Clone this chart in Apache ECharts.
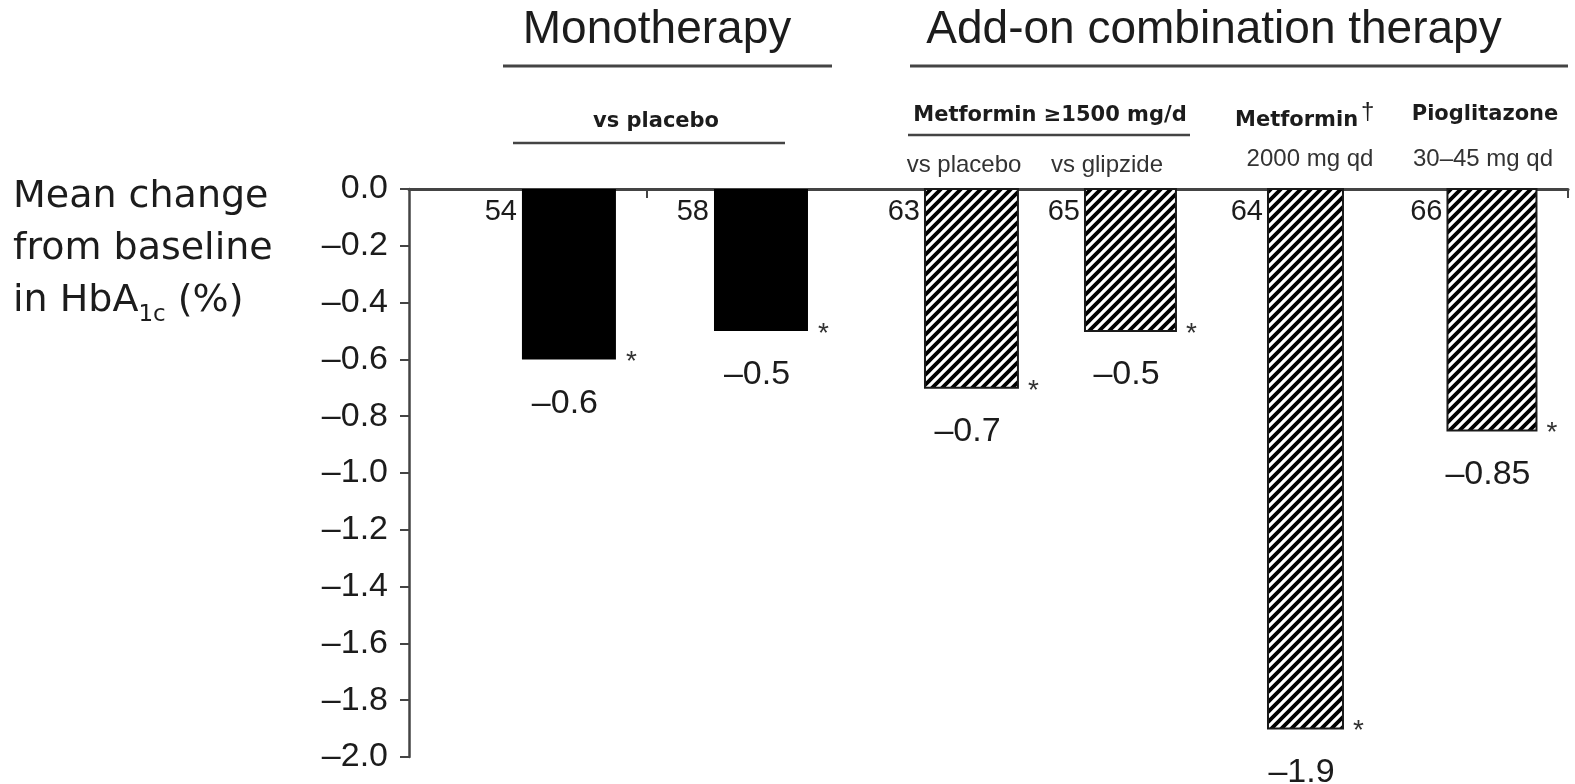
<!DOCTYPE html>
<html>
<head>
<meta charset="utf-8">
<script src="https://cdn.jsdelivr.net/npm/echarts@6/dist/echarts.min.js"></script>
<style>
  html, body { margin: 0; padding: 0; background: #fff; }
  #chart { width: 1575px; height: 784px; }
</style>
</head>
<body>
<div id="chart"></div>
<script>
// ---- data -------------------------------------------------------------
const arms = [
  'Monotherapy vs placebo (study A)',
  'Monotherapy vs placebo (study B)',
  'Metformin ≥1500 mg/d vs placebo',
  'Metformin ≥1500 mg/d vs glipzide',
  'Metformin 2000 mg qd',
  'Pioglitazone 30–45 mg qd'
];
const therapyType = ['mono', 'mono', 'addon', 'addon', 'addon', 'addon'];
const meanChangeHbA1c = [-0.6, -0.5, -0.7, -0.5, -1.9, -0.85];
const patientsN = [54, 58, 63, 65, 64, 66];
const significant = [true, true, true, true, true, true];
const yRange = { min: -2.0, max: 0.0, step: 0.2 };

// ---- layout (horizontal axis runs 0..100 across the plot) -----------------
const barCenter = [13.8, 30.37, 48.53, 62.25, 77.35, 93.44];
const barWidth = [8.11, 8.11, 8.02, 7.85, 6.47, 7.68];

const FONT = '"Liberation Sans", Arial, sans-serif';
const BOLD = '"DejaVu Sans", sans-serif';
const INK = '#1c1c1c';
const RULE = '#444';

// diagonal hatch tile for add-on therapy bars
function hatchTile() {
  const s = 10;
  const c = document.createElement('canvas');
  c.width = s; c.height = s;
  const g = c.getContext('2d');
  g.fillStyle = '#fff';
  g.fillRect(0, 0, s, s);
  g.strokeStyle = '#000';
  g.lineWidth = 3.8;
  g.beginPath();
  g.moveTo(-2, s + 2); g.lineTo(s + 2, -2);
  g.moveTo(-s / 2 - 2, s / 2 + 2); g.lineTo(s / 2 + 2, -s / 2 - 2);
  g.moveTo(s / 2 - 2, s + s / 2 + 2); g.lineTo(s + s / 2 + 2, s / 2 - 2);
  g.stroke();
  return c;
}
const hatch = { image: hatchTile(), repeat: 'repeat' };

const dash = v => (v < 0 ? '–' : '') + String(Math.abs(v));

function renderBar(params, api) {
  const i = api.value(2);
  const p0 = api.coord([api.value(0), 0]);
  const p1 = api.coord([api.value(0), api.value(1)]);
  const w = api.size([barWidth[i], 0])[0];
  const left = p0[0] - w / 2, right = p0[0] + w / 2;
  const top = p0[1], bottom = p1[1];
  const mono = therapyType[i] === 'mono';
  const children = [
    {
      type: 'rect',
      shape: { x: left, y: top, width: w, height: bottom - top },
      style: mono ? { fill: '#000' } : { fill: hatch, stroke: '#1a1a1a', lineWidth: 2 }
    },
    {
      type: 'text',
      style: { text: String(patientsN[i]), x: left - 5, y: top + 23, align: 'right', verticalAlign: 'middle',
               font: '29px ' + FONT, fill: INK }
    },
    {
      type: 'text',
      style: { text: dash(meanChangeHbA1c[i]), x: p0[0] - 4, y: bottom + 44, align: 'center', verticalAlign: 'middle',
               font: '34px ' + FONT, fill: INK }
    }
  ];
  if (significant[i]) {
    children.push({
      type: 'text',
      style: { text: '*', x: right + 10, y: bottom + 3, align: 'left', verticalAlign: 'middle',
               font: '28px ' + FONT, fill: '#333' }
    });
  }
  return { type: 'group', children };
}

// header texts and rules
function label(text, x, baseline, font, align, fill) {
  const size = parseFloat(font.match(/(\d+(\.\d+)?)px/)[1]);
  return { type: 'text', style: { text, x, y: baseline - 0.34 * size, font, fill: fill || INK,
           align: align || 'center', verticalAlign: 'middle' } };
}
function rule(x1, x2, y, w) {
  return { type: 'line', shape: { x1, y1: y, x2, y2: y }, style: { stroke: RULE, lineWidth: w || 3 } };
}

const chart = echarts.init(document.getElementById('chart'));
chart.setOption({
  animation: false,
  backgroundColor: '#fff',
  grid: { left: 409, right: 7, top: 189, bottom: 27 },
  xAxis: {
    type: 'value', min: 0, max: 100, position: 'top',
    axisLine: { show: true, onZero: false, lineStyle: { color: RULE, width: 3 } },
    axisTick: { show: true, inside: true, length: 9, customValues: [20.5, 100], lineStyle: { color: RULE, width: 2 } },
    axisLabel: { show: false },
    splitLine: { show: false }
  },
  yAxis: {
    type: 'value', min: yRange.min, max: yRange.max, interval: yRange.step,
    axisLine: { show: true, lineStyle: { color: RULE, width: 2.5 } },
    axisTick: { show: true, length: 9, lineStyle: { color: RULE, width: 2 } },
    axisLabel: {
      margin: 21, fontSize: 34, fontFamily: FONT, color: INK,
      formatter: v => Math.abs(v) < 1e-9 ? '0.0' : '–' + Math.abs(v).toFixed(1)
    },
    splitLine: { show: false }
  },
  graphic: [
    {
      type: 'text',
      style: {
        x: 13, y: 171, align: 'left', verticalAlign: 'top',
        text: 'Mean change\nfrom baseline\n{m|in HbA}{s|1c}{m| (%)}',
        font: '38px "DejaVu Sans", sans-serif', fill: INK, lineHeight: 52,
        rich: {
          m: { fontSize: 38, fontFamily: 'DejaVu Sans', lineHeight: 52, fill: INK },
          s: { fontSize: 23, fontFamily: 'DejaVu Sans', lineHeight: 18, verticalAlign: 'bottom', fill: INK }
        }
      }
    },
    label('Monotherapy', 657, 46, '46px ' + FONT),
    rule(503, 832, 66),
    label('Add-on combination therapy', 1214, 46, '46px ' + FONT),
    rule(910, 1568, 66),
    label('vs placebo', 656, 129, 'bold 21px ' + BOLD),
    rule(513, 785, 143, 2.5),
    label('Metformin ≥1500 mg/d', 1050, 123, 'bold 21px ' + BOLD),
    rule(908, 1190, 135, 2.5),
    label('vs placebo', 964, 174, '24px ' + FONT, 'center', '#333'),
    label('vs glipzide', 1107, 174, '24px ' + FONT, 'center', '#333'),
    label('Metformin', 1235, 128, 'bold 21px ' + BOLD, 'left'),
    label('†', 1361, 121, '24px ' + FONT, 'left'),
    label('2000 mg qd', 1310, 168, '24px ' + FONT, 'center', '#333'),
    label('Pioglitazone', 1485, 122, 'bold 21px ' + BOLD),
    label('30–45 mg qd', 1483, 168, '24px ' + FONT, 'center', '#333')
  ],
  series: [{
    type: 'custom',
    name: 'Mean change in HbA1c',
    renderItem: renderBar,
    encode: { x: 0, y: 1 },
    data: arms.map((a, i) => [barCenter[i], meanChangeHbA1c[i], i])
  }]
});
</script>
</body>
</html>
